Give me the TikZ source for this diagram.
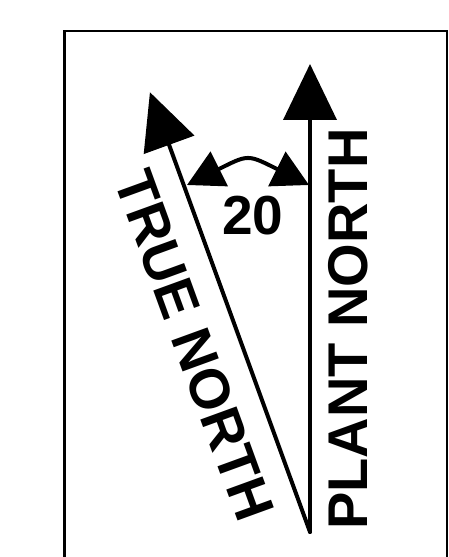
\documentclass[tikz,border=0pt]{standalone}
\usepackage{fontspec}
\setmainfont{Liberation Sans}
\usetikzlibrary{arrows.meta,calc}
\begin{document}
\begin{tikzpicture}[x=1pt,y=1pt,
  frame/.style={draw=black,line width=2.5pt},
  northline/.style={draw=black,line width=4pt,line cap=round},
  bigtip/.style={-{Triangle[length=56pt,width=53pt]}},
  angletip/.style={{Triangle[length=36pt,width=38pt]}-{Triangle[length=36pt,width=38pt]}},
  lbl/.style={inner sep=0pt,font=\fontsize{56}{60}\selectfont\bfseries},
  numlbl/.style={inner sep=0pt,font=\fontsize{55}{60}\selectfont\bfseries}]
\useasboundingbox (0,0) rectangle (448,557);
\path[frame] (64.5,-10) rectangle (447,526);
% base points
\coordinate (O) at (310,25);
\coordinate (PN) at (310,493);
\coordinate (TN) at ($(O)+(110:468)$);
% north lines
\draw[northline,bigtip] (O) -- (PN);
\draw[northline,bigtip] (O) -- (TN);
% angle arc
\coordinate (aL) at (187,372);
\coordinate (bL) at (219,388);
\coordinate (bR) at (277,388);
\coordinate (aR) at (309,372);
\draw[line width=4pt,angletip] (aL) -- (bL) .. controls (248.4,402.7) and (247.6,402.7) .. (bR) -- (aR);
% labels
\node[lbl,rotate=90] (plant) at (348,228) {PLANT NORTH};
\node[lbl,rotate=-70] (true) at (194.2,211.6) {TRUE NORTH};
\node[numlbl] (ang) at (253,341) {20};
\end{tikzpicture}
\end{document}
